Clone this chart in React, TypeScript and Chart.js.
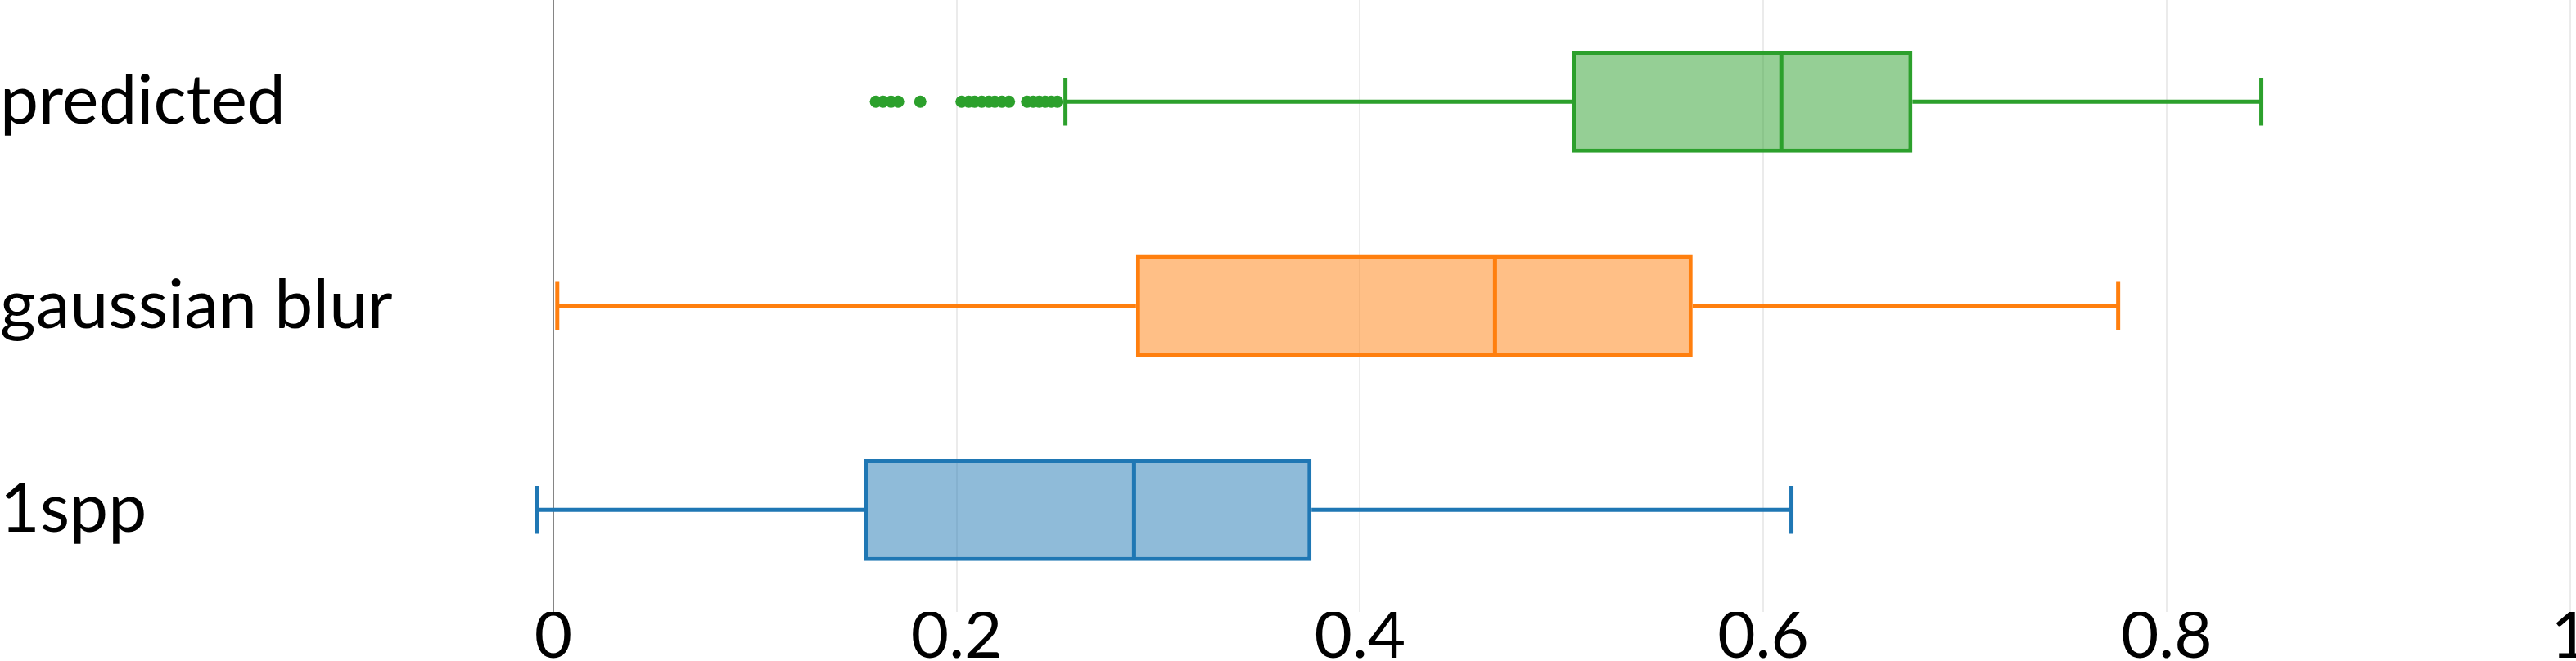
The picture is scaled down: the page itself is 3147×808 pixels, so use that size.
import { useEffect, useRef } from 'react';
import { Chart, registerables } from 'chart.js';

Chart.register(...registerables);

const CATEGORIES = ['predicted', 'gaussian blur', '1spp'];
const LOWER = [0.254, 0.002, -0.008];
const Q1 = [0.505, 0.289, 0.154];
const MEDIAN = [0.609, 0.467, 0.288];
const Q3 = [0.674, 0.565, 0.376];
const UPPER = [0.847, 0.776, 0.614];
const PREDICTED_OUTLIERS = [
  0.160, 0.1635, 0.1675, 0.171, 0.182,
  0.2025, 0.206, 0.209, 0.2125, 0.216, 0.219, 0.2225, 0.226,
  0.235, 0.238, 0.241, 0.244, 0.247, 0.250,
];
const X_TICKS = [0, 0.2, 0.4, 0.6, 0.8, 1];
const X_MIN = -0.0795;
const X_MAX = 1;

const LINE_COLORS = ['#2ca02c', '#ff7f0e', '#1f77b4'];
const FILL_COLORS = ['rgba(44,160,44,0.5)', 'rgba(255,127,14,0.5)', 'rgba(31,119,180,0.5)'];
const FONT = 'Lato';
const LW = 5;

const boxPlugin = {
  id: 'boxWhiskers',
  beforeDatasetsDraw(chart: any) {
    const meta = chart.getDatasetMeta(0);
    const xs = chart.scales.x;
    const ctx = chart.ctx;
    ctx.save();
    meta.data.forEach((el: any, i: number) => {
      const y = el.y;
      const h = el.height;
      const capH = h * 0.47;
      const pL = xs.getPixelForValue(LOWER[i]);
      const p1 = xs.getPixelForValue(Q1[i]);
      const p3 = xs.getPixelForValue(Q3[i]);
      const pU = xs.getPixelForValue(UPPER[i]);
      ctx.strokeStyle = LINE_COLORS[i];
      ctx.lineWidth = LW;
      ctx.lineCap = 'butt';
      ctx.beginPath();
      ctx.moveTo(pL, y);
      ctx.lineTo(p1, y);
      ctx.moveTo(p3, y);
      ctx.lineTo(pU, y);
      ctx.moveTo(pL, y - capH / 2);
      ctx.lineTo(pL, y + capH / 2);
      ctx.moveTo(pU, y - capH / 2);
      ctx.lineTo(pU, y + capH / 2);
      ctx.stroke();
    });
    ctx.restore();
  },
  afterDatasetsDraw(chart: any) {
    const meta = chart.getDatasetMeta(0);
    const xs = chart.scales.x;
    const ctx = chart.ctx;
    ctx.save();
    meta.data.forEach((el: any, i: number) => {
      const y = el.y;
      const h = el.height;
      const pM = xs.getPixelForValue(MEDIAN[i]);
      ctx.strokeStyle = LINE_COLORS[i];
      ctx.lineWidth = LW;
      ctx.beginPath();
      ctx.moveTo(pM, y - h / 2 + LW / 2);
      ctx.lineTo(pM, y + h / 2 - LW / 2);
      ctx.stroke();
    });
    ctx.restore();
  },
};

export default function App() {
  const ref = useRef<HTMLCanvasElement | null>(null);

  useEffect(() => {
    if (!ref.current) return;
    const chart = new Chart(ref.current, {
      type: 'bar',
      data: {
        labels: CATEGORIES,
        datasets: [
          {
            type: 'bar',
            data: CATEGORIES.map((_, i) => [Q1[i], Q3[i]]) as any,
            backgroundColor: FILL_COLORS,
            borderColor: LINE_COLORS,
            borderWidth: LW,
            borderSkipped: false,
            categoryPercentage: 1,
            barPercentage: 0.5,
          },
          {
            type: 'scatter',
            data: PREDICTED_OUTLIERS.map((v) => ({ x: v, y: CATEGORIES[0] })) as any,
            backgroundColor: LINE_COLORS[0],
            borderColor: LINE_COLORS[0],
            borderWidth: 0,
            pointRadius: 7.5,
            showLine: false,
          } as any,
        ],
      },
      options: {
        indexAxis: 'y',
        animation: false,
        responsive: false,
        devicePixelRatio: 1,
        layout: { padding: { top: 0, right: 5, left: 0, bottom: 0 } },
        plugins: {
          legend: { display: false },
          tooltip: { enabled: false },
        },
        scales: {
          x: {
            type: 'linear',
            min: X_MIN,
            max: X_MAX,
            border: { display: false },
            grid: {
              drawTicks: false,
              lineWidth: 2,
              color: (c: any) => (c.tick && c.tick.value === 0 ? '#858585' : '#ebebeb'),
            },
            afterBuildTicks: (scale: any) => {
              scale.ticks = X_TICKS.map((v) => ({ value: v }));
            },
            afterFit: (scale: any) => {
              scale.height = 60;
              scale.paddingLeft = 0;
              scale.paddingRight = 0;
            },
            ticks: {
              maxRotation: 0,
              autoSkip: false,
              padding: -10,
              color: '#000',
              font: { family: FONT, size: 80, lineHeight: 1 },
              callback: (v: any) => String(v),
            },
          },
          y: {
            type: 'category',
            labels: CATEGORIES,
            border: { display: false },
            grid: { display: false, drawTicks: false },
            afterFit: (scale: any) => {
              scale.width = 480;
              scale.paddingTop = 0;
              scale.paddingBottom = 0;
            },
            ticks: {
              crossAlign: 'far',
              padding: 0,
              color: '#000',
              font: { family: FONT, size: 84, lineHeight: 1 },
            },
          },
        },
      },
      plugins: [boxPlugin],
    });
    return () => chart.destroy();
  }, []);

  return (
    <div style={{ position: 'absolute', left: 0, top: 0, width: 3147, height: 808, overflow: 'hidden', background: '#fff' }}>
      <canvas
        ref={ref}
        width={3147}
        height={816}
        style={{ display: 'block', position: 'absolute', left: 0, top: -8 }}
      />
    </div>
  );
}
